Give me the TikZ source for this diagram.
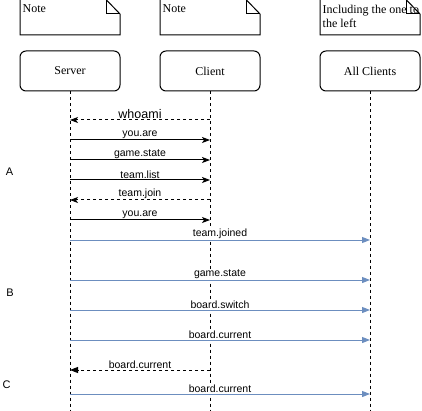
\documentclass[tikz,border=0pt]{standalone}
\usepackage{fontspec}
\setmainfont{Liberation Serif}
\newfontfamily\msgfont{Liberation Sans}
\usetikzlibrary{arrows.meta}
\definecolor{bcast}{HTML}{6C8EBF}

\begin{document}
\begin{tikzpicture}[x=1pt, y=-1pt,
  actor/.style={draw, line width=1pt, rounded corners=6pt, minimum width=100pt, minimum height=40pt, font=\fontsize{12}{14}\selectfont},
  notetext/.style={anchor=north west, inner sep=1pt, align=left, font=\fontsize{12}{14.5}\selectfont},
  lifeline/.style={line width=1pt, dash pattern=on 3pt off 3pt},
  call/.style={line width=1pt, -{Stealth[length=8pt,width=6pt,inset=2pt]}},
  reply/.style={call, dash pattern=on 3pt off 3pt},
  replyblock/.style={line width=1pt, dash pattern=on 3pt off 3pt, -{Triangle[length=8pt,width=6pt]}},
  broadcast/.style={line width=1pt, draw=bcast, -{Triangle[length=8pt,width=6pt,fill=bcast]}},
  msg/.style={midway, above, fill=white, inner sep=1pt, font=\msgfont\fontsize{10.5}{12}\selectfont},
  phase/.style={inner sep=0pt, font=\msgfont\fontsize{11}{13}\selectfont}
]
\useasboundingbox (0,0) rectangle (422,411);

% notes
\node[notetext] (note1) at (21.5,3.5) {Note};
\node[notetext] (note2) at (161.5,3.5) {Note};
\node[notetext] (note3) at (321.5,3.5) {Including the one to\\the left};

\draw[line width=1pt] (20,-0.5) -- (106,-0.5) -- (120,14) -- (120,35) -- (20,35) -- cycle;
\draw[line width=1pt] (106,-0.5) -- (106,14) -- (120,14);
\draw[line width=1pt] (160,-0.5) -- (246,-0.5) -- (260,14) -- (260,35) -- (160,35) -- cycle;
\draw[line width=1pt] (246,-0.5) -- (246,14) -- (260,14);
\draw[line width=1pt] (320,-0.5) -- (406,-0.5) -- (420,14) -- (420,35) -- (320,35) -- cycle;
\draw[line width=1pt] (406,-0.5) -- (406,14) -- (420,14);

% participants
\node[actor] (server) at (70,71) {Server};
\node[actor] (client) at (210,71) {Client};
\node[actor] (all) at (370,71) {All Clients};

\coordinate (serverend) at (70,411);
\coordinate (clientend) at (210,411);
\coordinate (allend) at (370,411);

\draw[lifeline] (server.south) -- (serverend);
\draw[lifeline] (client.south) -- (clientend);
\draw[lifeline] (all.south) -- (allend);

% message ends
\coordinate (s1) at (70,120);  \coordinate (c1) at (210,120);
\coordinate (s2) at (70,140);  \coordinate (c2) at (210,140);
\coordinate (s3) at (70,160);  \coordinate (c3) at (210,160);
\coordinate (s4) at (70,180);  \coordinate (c4) at (210,180);
\coordinate (s5) at (70,200);  \coordinate (c5) at (210,200);
\coordinate (s6) at (70,220);  \coordinate (c6) at (210,220);
\coordinate (s7) at (70,240);  \coordinate (a7) at (370,240);
\coordinate (s8) at (70,280);  \coordinate (a8) at (370,280);
\coordinate (s9) at (70,310);  \coordinate (a9) at (370,310);
\coordinate (s10) at (70,340); \coordinate (a10) at (370,340);
\coordinate (s11) at (70,370); \coordinate (c11) at (210,370);
\coordinate (s12) at (70,394); \coordinate (a12) at (370,394);

\draw[reply] (c1) -- node[msg, font=\msgfont\fontsize{12.5}{14}\selectfont] {whoami} (s1);
\draw[call] (s2) -- node[msg] {you.are} (c2);
\draw[call] (s3) -- node[msg] {game.state} (c3);
\draw[call] (s4) -- node[msg] {team.list} (c4);
\draw[reply] (c5) -- node[msg] {team.join} (s5);
\draw[call] (s6) -- node[msg] {you.are} (c6);
\draw[broadcast] (s7) -- node[msg] {team.joined} (a7);
\draw[broadcast] (s8) -- node[msg] {game.state} (a8);
\draw[broadcast] (s9) -- node[msg] {board.switch} (a9);
\draw[broadcast] (s10) -- node[msg] {board.current} (a10);
\draw[replyblock] (c11) -- node[msg] {board.current} (s11);
\draw[broadcast] (s12) -- node[msg] {board.current} (a12);

% phases
\node[phase] (phaseA) at (9.5,172) {A};
\node[phase] (phaseB) at (10,293) {B};
\node[phase] (phaseC) at (6.5,385) {C};
\end{tikzpicture}
\end{document}
